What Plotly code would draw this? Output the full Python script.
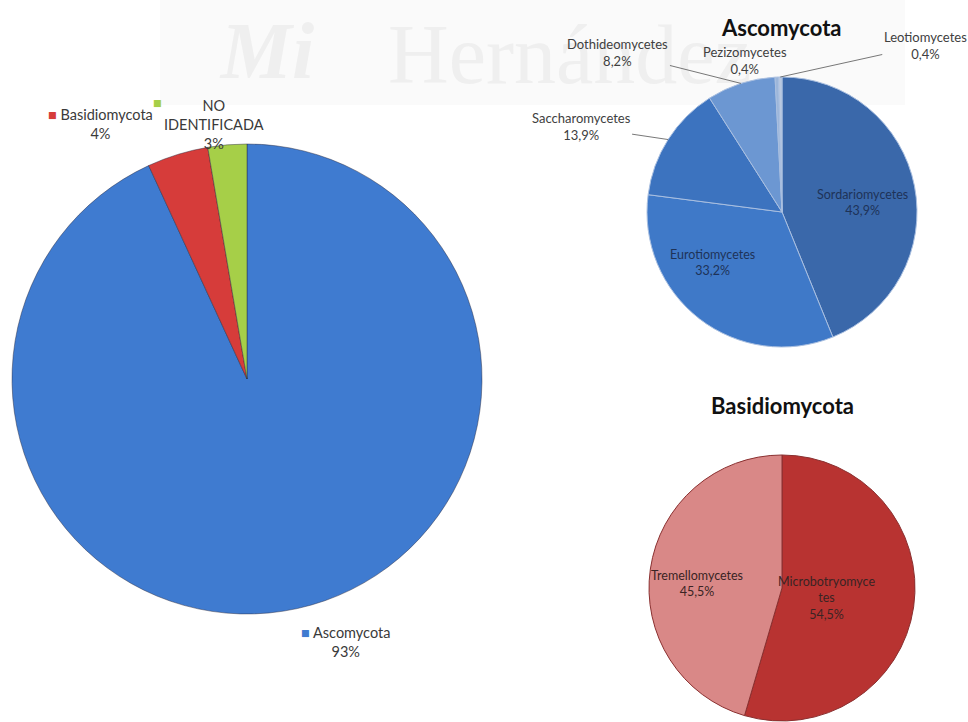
import math
import plotly.graph_objects as go

W, H = 968, 722

# ---------------- data ----------------
phyla = ["Ascomycota", "Basidiomycota", "NO IDENTIFICADA"]
phyla_counts = [244, 11, 7]
phyla_colors = ["#3f7bd0", "#d63c3a", "#a6cf48"]

asco_classes = ["Sordariomycetes", "Eurotiomycetes", "Saccharomycetes",
                "Dothideomycetes", "Pezizomycetes", "Leotiomycetes"]
asco_counts = [107, 81, 34, 20, 1, 1]
asco_colors = ["#3a68aa", "#3f79c8", "#3c73bf", "#6c97d2", "#9cb6da", "#b9c9e0"]

basidio_classes = ["Microbotryomycetes", "Tremellomycetes"]
basidio_counts = [6, 5]
basidio_text = ["Microbotryomyce<br>tes", "Tremellomycetes"]
basidio_colors = ["#b83331", "#d98887"]

FONT = "Lato, 'Open Sans', sans-serif"


def dom(x0, x1, ytop, ybot):
    return dict(x=[x0 / W, x1 / W], y=[1 - ybot / H, 1 - ytop / H])


def pct(v, tot, nd):
    return f"{v / tot * 100:.{nd}f}".replace(".", ",") + "%"


def px(x, y):
    return x / W, 1 - y / H


fig = go.Figure()

MAIN = (12, 482, 143, 615)
ASCO = (647, 917, 77, 347)
BAS = (649, 915, 455, 721)

fig.add_trace(go.Pie(
    labels=phyla, values=phyla_counts, sort=False, direction="clockwise",
    rotation=0, textinfo="none", domain=dom(*MAIN),
    marker=dict(colors=phyla_colors, line=dict(color="rgba(40,40,60,0.45)", width=1)),
    showlegend=False, hoverinfo="label+percent",
))
fig.add_trace(go.Pie(
    labels=asco_classes, values=asco_counts, sort=False, direction="clockwise",
    rotation=0, domain=dom(*ASCO), textinfo="none",
    marker=dict(colors=asco_colors, line=dict(color="#a9bfe0", width=1)),
    showlegend=False, hoverinfo="label+percent",
))
fig.add_trace(go.Pie(
    labels=basidio_classes, values=basidio_counts, sort=False,
    direction="clockwise", rotation=0, domain=dom(*BAS), textinfo="none",
    marker=dict(colors=basidio_colors, line=dict(color="#8a3030", width=1)),
    showlegend=False, hoverinfo="label+percent",
))

ann = []


def text_at(text, x, y, size, color, **kw):
    xx, yy = px(x, y)
    d = dict(text=text, x=xx, y=yy, xref="paper", yref="paper", showarrow=False,
             xanchor="center", yanchor="middle",
             font=dict(family=FONT, size=size, color=color))
    d.update(kw)
    ann.append(d)


# --- Ascomycota pie labels
cx, cy, r = (ASCO[0] + ASCO[1]) / 2, (ASCO[2] + ASCO[3]) / 2, (ASCO[1] - ASCO[0]) / 2
tot = sum(asco_counts)
outside = {2: (-87, -13), 3: (-123, -31), 4: (-32, -17), 5: (145, -32)}
inside = {0: (862, 202), 1: (712, 262)}
cum = 0
for i, v in enumerate(asco_counts):
    mid = (cum + v / 2) / tot * 2 * math.pi
    cum += v
    label = f"{asco_classes[i]}<br>{pct(v, tot, 1)}"
    if i in inside:
        text_at(label, *inside[i], 12.5, "#1e3358")
        continue
    tx = cx + r * math.sin(mid)
    ty = cy - r * math.cos(mid)
    ax, ay = outside[i]
    xx, yy = px(tx, ty)
    ann.append(dict(text=label, x=xx, y=yy, xref="paper", yref="paper", ax=ax, ay=ay,
                    showarrow=True, arrowhead=0, arrowwidth=0.8, arrowcolor="#555555",
                    standoff=0, xanchor="center", yanchor="middle",
                    font=dict(family=FONT, size=13, color="#404040")))

# --- Basidiomycota pie labels
btot = sum(basidio_counts)
bpos = [(826, 598), (697, 583)]
for i, v in enumerate(basidio_counts):
    text_at(f"{basidio_text[i]}<br>{pct(v, btot, 1)}", *bpos[i], 12.5, "#3a2424")

# --- main pie labels (with legend keys)
mtot = sum(phyla_counts)
text_at(f"<span style='color:{phyla_colors[1]}'>■</span> {phyla[1]}<br>{pct(phyla_counts[1], mtot, 0)}",
        100, 124, 14.5, "#3a3a3a")
text_at(f"<span style='color:{phyla_colors[2]}'>■</span>", 157, 103, 14.5, phyla_colors[2])
text_at(f"{phyla[2].replace(' ', '<br>')}<br>{pct(phyla_counts[2], mtot, 0)}",
        214, 124, 14.5, "#3a3a3a")
text_at(f"<span style='color:{phyla_colors[0]}'>■</span> {phyla[0]}<br>{pct(phyla_counts[0], mtot, 0)}",
        345, 642, 14.5, "#3a3a3a")

# --- titles
text_at("<b>Ascomycota</b>", 781, 28, 22, "#111111")
text_at("<b>Basidiomycota</b>", 782, 405, 22, "#111111")

# --- faint watermark behind the charts
shapes = [
    dict(type="rect", xref="paper", yref="paper", x0=160 / W, x1=905 / W, y0=1 - 105 / H, y1=1,
         fillcolor="#fafafa", line=dict(width=0), layer="below"),
    dict(type="rect", xref="paper", yref="paper", x0=190 / W, x1=345 / W, y0=1 - 84 / H, y1=1,
         fillcolor="rgba(0,0,0,0)", line=dict(width=0), layer="below",
         label=dict(text="<b><i>Mi</i></b>", textposition="middle center",
                    font=dict(family="Liberation Serif, serif", size=80, color="#efefef"))),
    dict(type="rect", xref="paper", yref="paper", x0=375 / W, x1=765 / W, y0=1 - 90 / H, y1=1,
         fillcolor="rgba(0,0,0,0)", line=dict(width=0), layer="below",
         label=dict(text="Hernández", textposition="middle center",
                    font=dict(family="Liberation Serif, serif", size=84, color="#efefef"))),
]

fig.update_layout(
    width=W, height=H, margin=dict(l=0, r=0, t=0, b=0),
    paper_bgcolor="white", plot_bgcolor="white", separators=",.",
    annotations=ann, shapes=shapes, font=dict(family=FONT),
)

fig.write_html("out.html")
